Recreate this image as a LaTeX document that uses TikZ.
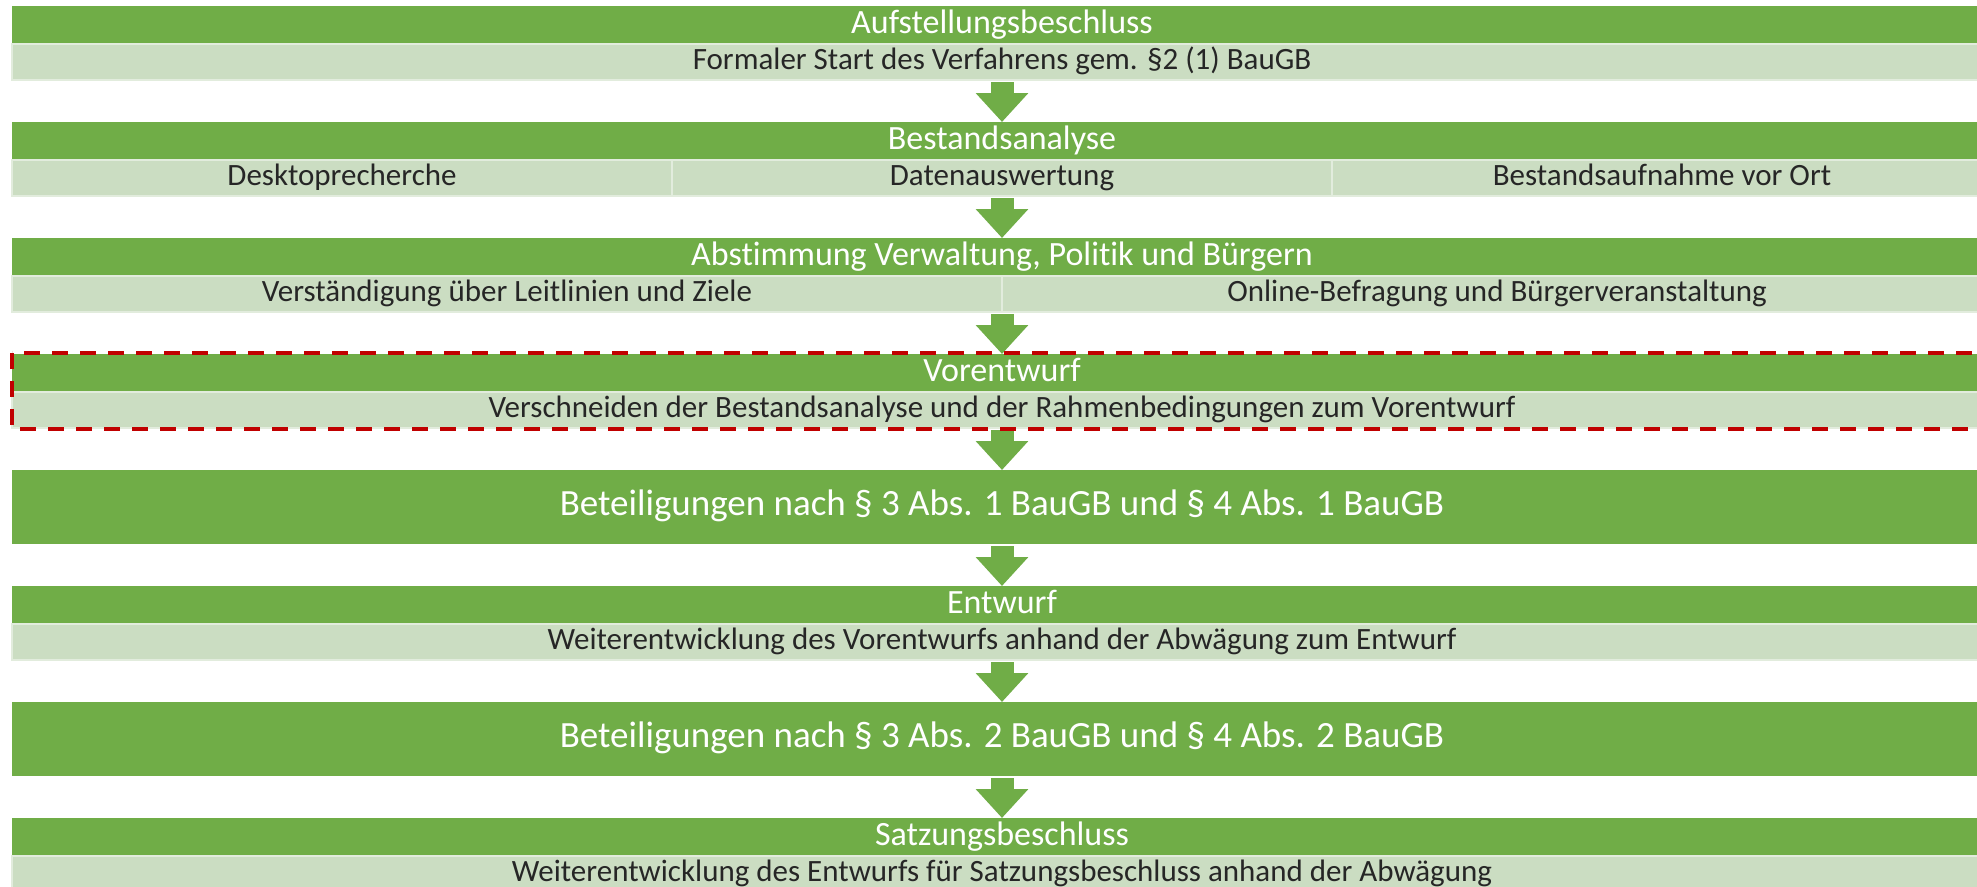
\documentclass[tikz,border=0pt]{standalone}
\usepackage{fontspec}
\setmainfont{Carlito}[Ligatures={NoCommon,NoContextual}, RawFeature={-calt;-liga;-clig}]
\usepackage{tikz}
\definecolor{bgruen}{RGB}{112,173,71}
\definecolor{hgruen}{RGB}{203,221,194}
\definecolor{rahmenrot}{RGB}{192,0,0}
\usetikzlibrary{arrows.meta}

\begin{document}
\begin{tikzpicture}[x=1pt, y=-1pt,
				kopf/.style={fill=bgruen, text=white, minimum width=1980, minimum height=38, inner sep=0pt, outer sep=0pt,
					text height=23pt, text depth=7pt, font=\fontsize{34}{36}\selectfont},
				grosskopf/.style={kopf, minimum height=74, font=\fontsize{37}{39}\selectfont},
				zelle/.style={fill=hgruen, draw=white!45!hgruen, line width=1.5pt, minimum height=36, inner sep=0pt, outer sep=0pt,
					text=black!85, text height=21pt, text depth=6pt, font=\fontsize{31}{33}\selectfont},
				pfeil/.style={bgruen, line width=23pt, shorten <=2pt, -{Triangle[width=51pt, length=29pt]}},
				rahmen/.style={rahmenrot, line width=4pt, dash pattern=on 16pt off 12pt}]
				%Bildbereich
				\useasboundingbox (0,0) rectangle (1977,886);
				\clip (0,0) rectangle (1977,886);
				% Aufstellungsbeschluss
				\node[kopf] (h1) at (1002,25) {Aufstellungsbeschluss};
				\node[zelle, minimum width=1980] (s1) at (1002,62) {Formaler Start des Verfahrens gem. §2 (1) BauGB};
				% Bestandsanalyse
				\node[kopf] (h2) at (1002,141) {Bestandsanalyse};
				\node[zelle, minimum width=660] (s2a) at (342,178) {Desktoprecherche};
				\node[zelle, minimum width=660] (s2b) at (1002,178) {Datenauswertung};
				\node[zelle, minimum width=660] (s2c) at (1662,178) {Bestandsaufnahme vor Ort};
				% Abstimmung
				\node[kopf] (h3) at (1002,257) {Abstimmung Verwaltung, Politik und Bürgern};
				\node[zelle, minimum width=990] (s3a) at (507,294) {Verständigung über Leitlinien und Ziele};
				\node[zelle, minimum width=990] (s3b) at (1497,294) {Online-Befragung und Bürgerveranstaltung};
				% Vorentwurf
				\node[kopf] (h4) at (1002,373) {Vorentwurf};
				\node[zelle, minimum width=1980] (s4) at (1002,410) {Verschneiden der Bestandsanalyse und der Rahmenbedingungen zum Vorentwurf};
				% Beteiligungen 1
				\node[grosskopf] (h5) at (1002,507) {Beteiligungen nach § 3 Abs. 1 BauGB und § 4 Abs. 1 BauGB};
				% Entwurf
				\node[kopf] (h6) at (1002,605) {Entwurf};
				\node[zelle, minimum width=1980] (s6) at (1002,642) {Weiterentwicklung des Vorentwurfs anhand der Abwägung zum Entwurf};
				% Beteiligungen 2
				\node[grosskopf] (h7) at (1002,739) {Beteiligungen nach § 3 Abs. 2 BauGB und § 4 Abs. 2 BauGB};
				% Satzungsbeschluss
				\node[kopf] (h8) at (1002,837) {Satzungsbeschluss};
				\node[zelle, minimum width=1980] (s8) at (1002,874) {Weiterentwicklung des Entwurfs für Satzungsbeschluss anhand der Abwägung};
				% Pfeile
				\foreach \a/\b in {s1.south/h2.north, s2b.south/h3.north, s3a.south east/h4.north, s4.south/h5.north,
					h5.south/h6.north, s6.south/h7.north, h7.south/h8.north}
					\draw[pfeil] (\a) -- (\b);
				% Markierung
				\draw[rahmen] ([yshift=1pt]h4.north west) rectangle ([xshift=2pt, yshift=-1pt]s4.south east);
			\end{tikzpicture}
\end{document}
